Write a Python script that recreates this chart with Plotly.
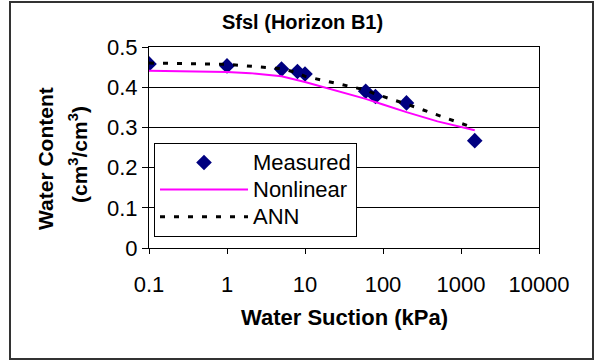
import plotly.graph_objects as go

# Measured water retention points (suction in kPa, water content in cm3/cm3)
measured_suction = [0.1, 1, 5, 8, 10, 60, 80, 200, 1500]
measured_theta = [0.458, 0.453, 0.445, 0.439, 0.433, 0.390, 0.377, 0.361, 0.267]

# Nonlinear regression curve
nonlinear_suction = [0.1, 0.3, 1, 2, 5, 10, 20, 40, 60, 100, 200, 500, 1000, 1500]
nonlinear_theta = [0.441, 0.440, 0.438, 0.435, 0.427, 0.413, 0.397, 0.380, 0.371,
                   0.357, 0.338, 0.315, 0.300, 0.293]

# ANN predictions
ann_suction = [0.1, 1, 5, 8, 10, 60, 80, 200, 1500]
ann_theta = [0.460, 0.457, 0.446, 0.436, 0.427, 0.393, 0.383, 0.358, 0.298]

x_tick_vals = [0.1, 1, 10, 100, 1000, 10000]
x_tick_text = ["0.1", "1", "10", "100", "1000", "10000"]
y_tick_vals = [0, 0.1, 0.2, 0.3, 0.4, 0.5]
y_tick_text = ["0", "0.1", "0.2", "0.3", "0.4", "0.5"]

FONT = "Liberation Sans, Arial, sans-serif"


def legend_label(text):
    # larger glyphs while keeping the compact row spacing of the legend font
    return '<span style="font-size:22px">' + text + "</span>"


fig = go.Figure()
fig.add_trace(go.Scatter(
    x=measured_suction, y=measured_theta, mode="markers", name=legend_label("Measured"),
    marker=dict(symbol="diamond", size=12, color="#000080"),
))
fig.add_trace(go.Scatter(
    x=nonlinear_suction, y=nonlinear_theta, mode="lines", name=legend_label("Nonlinear"),
    line=dict(color="#FF00FF", width=2),
))
fig.add_trace(go.Scatter(
    x=ann_suction, y=ann_theta, mode="lines", name=legend_label("ANN"),
    line=dict(color="black", width=3, dash="5px,9px"),
))

# plot area in pixels: left 149, right 539, top 47, bottom 248
L, R, T, B = 149, 539, 47, 248
W, H = 595, 363


def px(x):
    return (x - L) / (R - L)


def py(y):
    return (B - y) / (B - T)


fig.update_layout(
    width=W, height=H,
    margin=dict(l=L, r=W - R, t=T, b=H - B),
    paper_bgcolor="white", plot_bgcolor="white",
    font=dict(family=FONT, size=20, color="black"),
    showlegend=True,
    legend=dict(
        x=px(154), y=py(143), xanchor="left", yanchor="top",
        bgcolor="white", bordercolor="black", borderwidth=1,
        font=dict(size=18.5), itemwidth=88, tracegroupgap=0,
    ),
    xaxis=dict(
        type="log", range=[-1, 4],
        tickvals=x_tick_vals, ticktext=x_tick_text,
        ticks="outside", ticklen=5, tickcolor="black",
        ticklabelstandoff=12,
        showgrid=False, showline=True, linecolor="black", linewidth=1,
        mirror=True, zeroline=False,
        tickfont=dict(size=22),
    ),
    yaxis=dict(
        range=[0, 0.5], tickvals=y_tick_vals, ticktext=y_tick_text,
        ticks="outside", ticklen=6, tickcolor="black",
        showgrid=True, gridcolor="black", gridwidth=1,
        showline=True, linecolor="black", linewidth=1, mirror=True,
        zeroline=False, tickfont=dict(size=22),
    ),
    annotations=[
        dict(text="<b>Sfsl (Horizon B1)</b>", xref="paper", yref="paper",
             x=px(302), y=py(22), xanchor="center", yanchor="middle",
             showarrow=False, font=dict(size=20)),
        dict(text="<b>Water Suction (kPa)</b>", xref="paper", yref="paper",
             x=px(344), y=py(317), xanchor="center", yanchor="middle",
             showarrow=False, font=dict(size=22)),
        dict(text="<b>Water Content</b>", xref="paper", yref="paper",
             x=px(45), y=py(159), xanchor="center", yanchor="middle",
             textangle=-90, showarrow=False, font=dict(size=21)),
        dict(text="<b>(cm<sup>3</sup>/cm<sup>3</sup>)</b>", xref="paper", yref="paper",
             x=px(78), y=py(155), xanchor="center", yanchor="middle",
             textangle=-90, showarrow=False, font=dict(size=21)),
    ],
    shapes=[
        dict(type="rect", xref="paper", yref="paper",
             x0=px(10), x1=px(593), y0=py(359), y1=py(2),
             line=dict(color="#333333", width=2), layer="below"),
    ],
)

fig.write_html("out.html")
